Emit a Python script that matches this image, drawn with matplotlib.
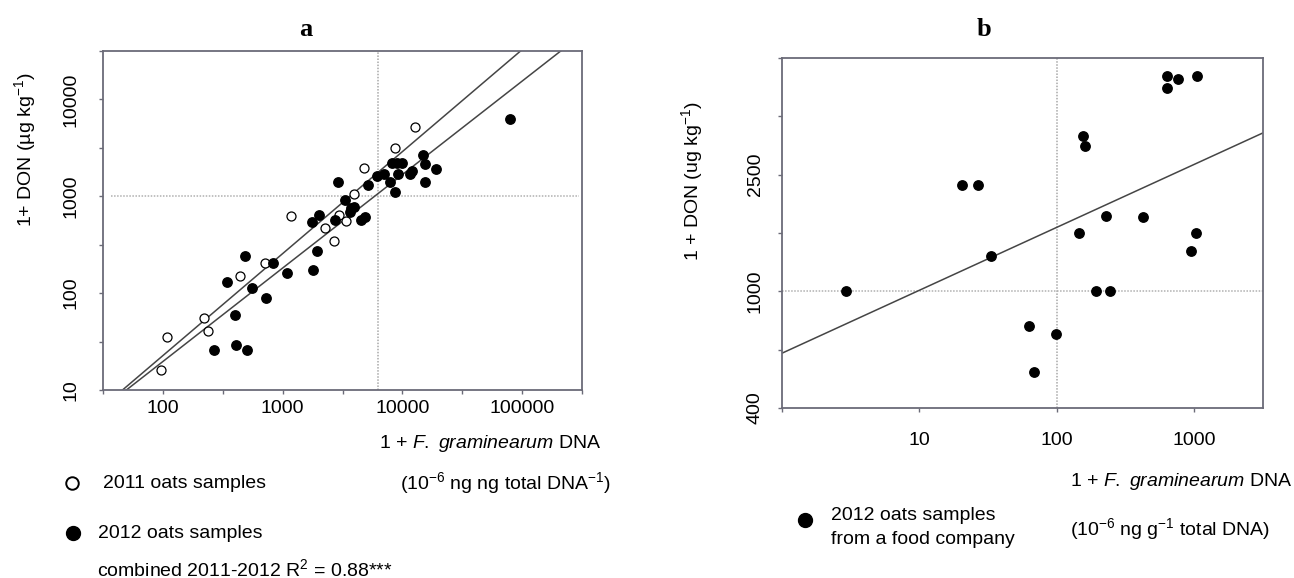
import numpy as np
import matplotlib
matplotlib.use('Agg')
import matplotlib.pyplot as plt
from matplotlib.lines import Line2D
from matplotlib.ticker import NullLocator

plt.rcParams['font.family'] = ['Liberation Sans', 'DejaVu Sans']
plt.rcParams['mathtext.fontset'] = 'custom'
plt.rcParams['mathtext.rm'] = 'Liberation Sans'
plt.rcParams['mathtext.it'] = 'Liberation Sans:italic'
plt.rcParams['mathtext.default'] = 'regular'

# ---- panel a data: 1 + F. graminearum DNA vs 1 + DON ----
dna_2011 = [96, 109, 219, 239, 437, 707, 1185, 2270, 2668, 2937, 3357, 3948, 4818, 8696, 12850]
don_2011 = [16, 35, 56, 41, 149, 205, 629, 472, 348, 640, 553, 1050, 1958, 3162, 5190]

dna_2012 = [267, 343, 401, 410, 489, 507, 554, 723, 826, 1084, 1752, 1805, 1941, 2000,
            2728, 2916, 3329, 3637, 3721, 3948, 4476, 4889, 5187, 6099, 6966, 7896,
            8128, 8690, 9017, 9226, 9932, 11670, 12100, 14780, 15460, 15460, 19140, 79600]
don_2012 = [26, 131, 60, 29, 242, 26, 112, 90, 204, 162, 538, 173, 273, 641,
            574, 1406, 906, 684, 753, 778, 569, 612, 1318, 1625, 1718, 1406,
            2203, 1106, 2203, 1718, 2203, 1718, 1816, 2647, 2133, 1406, 1924, 6280]

# regression lines in log10 space (2011, 2012)
reg_slope_a = [1.053, 0.965]
reg_icpt_a = [-0.751, -0.636]
ref_x_a, ref_y_a = 6200, 1000

# ---- panel b data: food company samples 2012 ----
dna_b = [2.93, 20.5, 26.5, 33.4, 63, 68.7, 98.6, 144.6, 155, 161, 193, 243, 228, 421,
         635, 635, 760, 1044, 1030, 944]
don_b = [1000, 2301, 2301, 1318, 762, 532, 713, 1581, 3400, 3127, 1000, 1000, 1811, 1786,
         5445, 4932, 5284, 5445, 1581, 1377]
reg_slope_b = 0.2147
reg_icpt_b = 2.789
ref_x_b, ref_y_b = 100, 1000

xticks_a = ['', '100', '', '1000', '', '10000', '', '100000', '']
yticks_a = ['10', '', '100', '', '1000', '', '10000', '']
xticks_b = ['', '10', '100', '1000']
yticks_b = ['400', '', '1000', '', '2500', '', '']

spine_col = '#6b6b78'
W, H = 1294, 578

fig = plt.figure(figsize=(12.94, 5.78), dpi=100)
ax_a = fig.add_axes([103 / W, 1 - 390 / H, 479 / W, 339 / H])
ax_b = fig.add_axes([782 / W, 1 - 408 / H, 481 / W, 350 / H])

for ax in (ax_a, ax_b):
    ax.set_xscale('log')
    ax.set_yscale('log')
    for s in ax.spines.values():
        s.set_color(spine_col)
        s.set_linewidth(1.3)
    ax.tick_params(length=3, width=1, color=spine_col, labelsize=14)

# panel a
ax_a.set_xlim(10 ** 1.5, 10 ** 5.5)
ax_a.set_ylim(10, 10 ** 4.5)
ax_a.set_xticks(10 ** np.arange(1.5, 5.51, 0.5))
ax_a.set_xticklabels(xticks_a)
ax_a.set_yticks(10 ** np.arange(1.0, 4.51, 0.5))
ax_a.set_yticklabels(yticks_a, rotation=90, va='center')
ax_a.xaxis.set_minor_locator(NullLocator())
ax_a.yaxis.set_minor_locator(NullLocator())
ax_a.tick_params(axis='x', pad=4)
ax_a.tick_params(axis='y', pad=14)

ax_a.axvline(ref_x_a, color='#a8a8a8', lw=1.1, ls=(0, (1, 1)), zorder=1)
ax_a.axhline(ref_y_a, xmin=0.017, xmax=0.994, color='#b0b0b0', lw=1.1, ls=(0, (1, 1)), zorder=1)

xl = np.array(ax_a.get_xlim())
for m, b in zip(reg_slope_a, reg_icpt_a):
    ax_a.plot(xl, 10 ** (b + m * np.log10(xl)), color='#454545', lw=1.1, zorder=2)

ax_a.scatter(dna_2011, don_2011, s=42, facecolors='white', edgecolors='black',
             linewidths=0.9, zorder=3)
ax_a.scatter(dna_2012, don_2012, s=46, color='black', zorder=3)

# panel b
ax_b.set_xlim(1, 10 ** 3.5)
ax_b.set_ylim(400, 6250)
ax_b.set_xticks([1, 10, 100, 1000])
ax_b.set_xticklabels(xticks_b)
ax_b.set_yticks(400 * np.sqrt(2.5) ** np.arange(7))
ax_b.set_yticklabels(yticks_b, rotation=90, va='center')
ax_b.xaxis.set_minor_locator(NullLocator())
ax_b.yaxis.set_minor_locator(NullLocator())
ax_b.tick_params(axis='x', pad=14)
ax_b.tick_params(axis='y', pad=10)

ax_b.axvline(ref_x_b, color='#a8a8a8', lw=1.1, ls=(0, (1, 1)), zorder=1)
ax_b.axhline(ref_y_b, color='#b0b0b0', lw=1.1, ls=(0, (1, 1)), zorder=1)
xb = np.array(ax_b.get_xlim())
ax_b.plot(xb, 10 ** (reg_icpt_b + reg_slope_b * np.log10(xb)), color='#454545', lw=1.1, zorder=2)
ax_b.scatter(dna_b, don_b, s=46, color='black', zorder=3)

# titles and labels
fig.text(306 / W, 1 - 30 / H, 'a', family='Liberation Serif', weight='bold', fontsize=19,
         ha='center', va='center')
fig.text(984 / W, 1 - 30 / H, 'b', family='Liberation Serif', weight='bold', fontsize=19,
         ha='center', va='center')

fig.text(25 / W, 1 - 150 / H, '1+ DON (µg kg$^{-1}$)', rotation=90, fontsize=14,
         ha='center', va='center')
fig.text(692 / W, 1 - 181 / H, '1 + DON (ug kg$^{-1}$)', rotation=90, fontsize=14,
         ha='center', va='center')

fig.text(379 / W, 1 - 443 / H, r'1 + $\mathit{F.}$ $\mathit{graminearum}$ DNA', fontsize=14, va='center')
fig.text(400 / W, 1 - 483 / H, '(10$^{-6}$ ng ng total DNA$^{-1}$)', fontsize=14, va='center')
fig.text(1070 / W, 1 - 482 / H, r'1 + $\mathit{F.}$ $\mathit{graminearum}$ DNA', fontsize=14, va='center')
fig.text(1070 / W, 1 - 529 / H, '(10$^{-6}$ ng g$^{-1}$ total DNA)', fontsize=14, va='center')

# legends
fig.add_artist(Line2D([72 / W], [1 - 483 / H], marker='o', ms=9, mfc='white', mec='black',
                      mew=1.4, ls='none', transform=fig.transFigure))
fig.add_artist(Line2D([73 / W], [1 - 533 / H], marker='o', ms=10, color='black',
                      ls='none', transform=fig.transFigure))
fig.text(103 / W, 1 - 483 / H, '2011 oats samples', fontsize=14, va='center')
fig.text(98 / W, 1 - 533 / H, '2012 oats samples', fontsize=14, va='center')
fig.text(97 / W, 1 - 569 / H, 'combined 2011-2012 R$^{2}$ = 0.88***', fontsize=14, va='center')

fig.add_artist(Line2D([805 / W], [1 - 520 / H], marker='o', ms=10, color='black',
                      ls='none', transform=fig.transFigure))
fig.text(831 / W, 1 - 516 / H, '2012 oats samples', fontsize=14, va='center')
fig.text(831 / W, 1 - 540 / H, 'from a food company', fontsize=14, va='center')

fig.savefig('out.png', dpi=100)
